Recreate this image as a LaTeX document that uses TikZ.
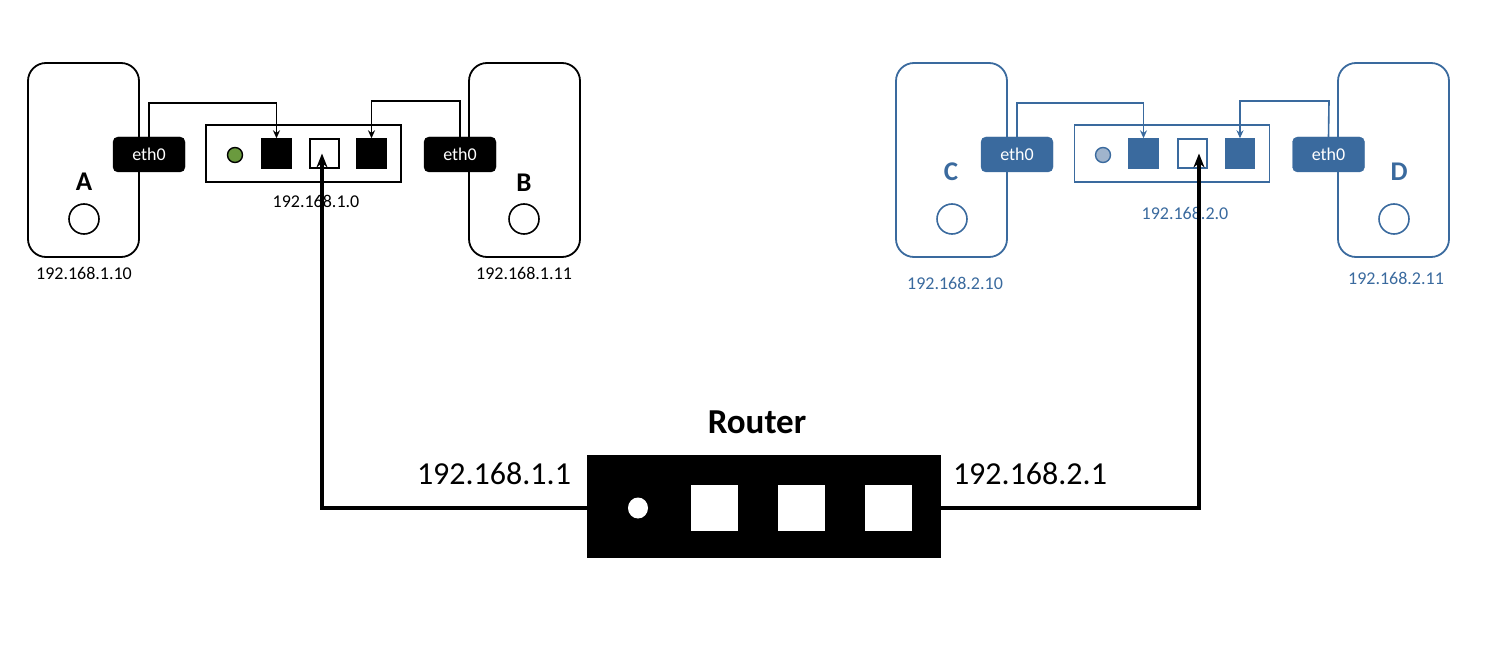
\documentclass[tikz,border=0pt]{standalone}
\usepackage{fontspec}
\setmainfont{Carlito}
\usetikzlibrary{arrows.meta,shapes.geometric}
\definecolor{netblue}{RGB}{58,106,158}
\definecolor{ledgreen}{RGB}{106,154,62}
\definecolor{ledgrey}{RGB}{160,180,204}
\begin{document}
\begin{tikzpicture}[x=1pt,y=-1pt,
  host/.style={draw=#1, line width=1.8pt, rounded corners=18pt, minimum width=111pt, minimum height=194pt, inner sep=0pt},
  nic/.style={fill=#1, draw=#1, rounded corners=5pt, minimum width=72pt, minimum height=35pt, inner sep=0pt, text=white, font=\fontsize{18}{18}\selectfont},
  hub/.style={draw=#1, line width=1.6pt, minimum width=195pt, minimum height=57pt, inner sep=0pt},
  port/.style={fill=#1, draw=#1, line width=1.4pt, minimum size=29pt, inner sep=0pt},
  openport/.style={fill=white, draw=#1, line width=1.4pt, minimum size=29pt, inner sep=0pt},
  led/.style={circle, draw=#1, line width=1.4pt, minimum size=15pt, inner sep=0pt},
  hostname/.style={text=#1, font=\bfseries\fontsize{27}{27}\selectfont},
  knob/.style={circle, draw=#1, line width=1.6pt, minimum size=30pt, inner sep=0pt},
  smalltext/.style={text=#1, font=\fontsize{18}{18}\selectfont},
  patch/.style={draw=#1, line width=1.6pt, -{Stealth[length=8pt,width=7pt]}},
  uplink/.style={draw=black, line width=3.5pt, -{Stealth[length=14pt,width=11pt]}},
  bigip/.style={font=\fontsize{32}{32}\selectfont},
]
\useasboundingbox (0,0) rectangle (1494,660);

% ---- subnet 192.168.1.0 (black) ----
\node[host=black] (A) at (83.5,160) {};
\node[host=black] (B) at (524.5,160) {};
\node[nic=black] (ethA) at (149,154.5) {eth0};
\node[nic=black] (ethB) at (460,154.5) {eth0};
\node[hub=black] (sw1) at (303.5,153.5) {};
\node[led=black, fill=ledgreen] (led1) at (235,155) {};
\node[port=black] (p1a) at (276.5,153.5) {};
\node[openport=black] (p1b) at (324.5,153.5) {};
\node[port=black] (p1c) at (371.5,153.5) {};
\node[smalltext=black] (net1) at (316,201) {192.168.1.0};
\node[hostname=black] (nameA) at (84,182) {A};
\node[hostname=black] (nameB) at (524,183) {B};
\node[knob=black] (kA) at (84,219) {};
\node[knob=black] (kB) at (524,219) {};
\node[smalltext=black] (ipA) at (84,273) {192.168.1.10};
\node[smalltext=black] (ipB) at (524,273) {192.168.1.11};
\coordinate (jA) at (149,103);
\coordinate (jB) at (460,101);
\draw[patch=black] (ethA.north) -- (jA) -| (p1a.north);
\draw[patch=black] (ethB.north) -- (jB) -| (p1c.north);

% ---- subnet 192.168.2.0 (blue) ----
\node[host=netblue] (C) at (951.5,160) {};
\node[host=netblue] (D) at (1393.5,160) {};
\node[nic=netblue] (ethC) at (1017,154.5) {eth0};
\node[nic=netblue] (ethD) at (1328.5,154.5) {eth0};
\node[hub=netblue] (sw2) at (1172,153.5) {};
\node[led=netblue, fill=ledgrey] (led2) at (1103,155) {};
\node[port=netblue] (p2a) at (1143.5,153.5) {};
\node[openport=netblue] (p2b) at (1192.5,153.5) {};
\node[port=netblue] (p2c) at (1240,153.5) {};
\node[smalltext=netblue] (net2) at (1185,213) {192.168.2.0};
\node[hostname=netblue] (nameC) at (951,172) {C};
\node[hostname=netblue] (nameD) at (1399,172) {D};
\node[knob=netblue] (kC) at (952,219) {};
\node[knob=netblue] (kD) at (1394,219) {};
\node[smalltext=netblue] (ipC) at (955,283) {192.168.2.10};
\node[smalltext=netblue] (ipD) at (1396,278) {192.168.2.11};
\coordinate (jC) at (1017,103);
\coordinate (jD) at (1329,101);
\draw[patch=netblue] (ethC.north) -- (jC) -| (p2a.north);
\draw[patch=netblue] (ethD.north) -- (jD) -| (p2c.north);

% ---- router ----
\node[fill=black, minimum width=354pt, minimum height=103pt, inner sep=0pt] (R) at (764,506.5) {};
\node[fill=white, ellipse, minimum width=20pt, minimum height=21pt, inner sep=0pt] (Rled) at (638,508) {};
\node[fill=white, minimum width=47pt, minimum height=46pt, inner sep=0pt] (R1) at (714.5,508) {};
\node[fill=white, minimum width=47pt, minimum height=46pt, inner sep=0pt] (R2) at (801.5,508) {};
\node[fill=white, minimum width=47pt, minimum height=46pt, inner sep=0pt] (R3) at (888.5,508) {};
\node[font=\bfseries\fontsize{35}{35}\selectfont] (Rname) at (757,422) {Router};
\node[bigip] (gw1) at (494,474) {192.168.1.1};
\node[bigip] (gw2) at (1030,474) {192.168.2.1};

\coordinate (up1) at (322,508);
\coordinate (up2) at (1199,508);
\draw[uplink] (R.west |- up1) -- (up1) -- (up1 |- p1b.center);
\draw[uplink] (R.east |- up2) -- (up2) -- (up2 |- p2b.center);
\end{tikzpicture}
\end{document}
